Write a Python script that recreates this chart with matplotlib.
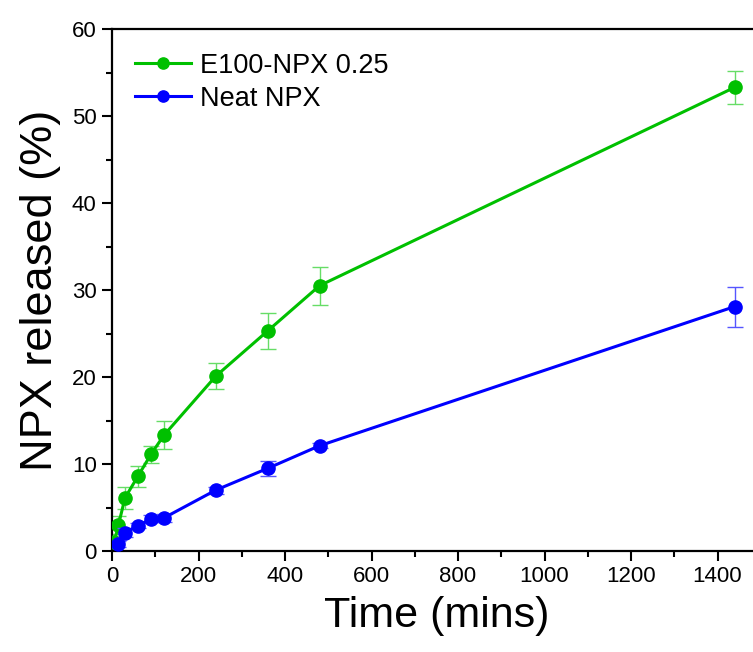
import matplotlib
matplotlib.use("Agg")
import matplotlib.pyplot as plt
from matplotlib.ticker import MultipleLocator

plt.rcParams['font.family'] = ['Liberation Sans', 'DejaVu Sans']

time_green = [5, 15, 30, 60, 90, 120, 240, 360, 480, 1440]
e100_vals = [1.0, 3.0, 6.1, 8.6, 11.1, 13.3, 20.1, 25.3, 30.5, 53.3]
e100_err = [0.3, 1.0, 1.3, 1.2, 1.0, 1.6, 1.5, 2.1, 2.2, 1.9]

time_blue = [15, 30, 60, 90, 120, 240, 360, 480, 1440]
neat_vals = [0.8, 2.1, 2.9, 3.7, 3.8, 7.0, 9.5, 12.1, 28.1]
neat_err = [0.3, 0.5, 0.3, 0.4, 0.5, 0.4, 0.9, 0.3, 2.3]

green = '#00C000'
blue = '#0000FF'

fig = plt.figure(figsize=(7.53, 6.52), dpi=100)
ax = fig.add_axes([112/753, 1-551/652, (760.75-112)/753, (551-29)/652])

ax.errorbar(time_green, e100_vals, yerr=e100_err, fmt='none', ecolor='#66DD66',
            elinewidth=1.0, capsize=5.5, capthick=1.0, zorder=2)
ax.plot(time_green, e100_vals, '-o', color=green, lw=2.2, ms=9.5, label='E100-NPX 0.25', zorder=3)
ax.errorbar(time_blue, neat_vals, yerr=neat_err, fmt='none', ecolor='#5555FF',
            elinewidth=1.0, capsize=5.5, capthick=1.0, zorder=4)
ax.plot(time_blue, neat_vals, '-o', color=blue, lw=2.2, ms=9.5, label='Neat NPX', zorder=5)

ax.set_xlim(0, 1500)
ax.set_ylim(0, 60)
ax.xaxis.set_major_locator(MultipleLocator(200))
ax.xaxis.set_minor_locator(MultipleLocator(100))
ax.yaxis.set_major_locator(MultipleLocator(10))
ax.yaxis.set_minor_locator(MultipleLocator(5))
ax.tick_params(which='major', direction='out', length=7, width=1.5, labelsize=16, pad=4)
ax.tick_params(which='minor', direction='out', length=4, width=1.5)
for s in ax.spines.values():
    s.set_linewidth(1.6)

ax.set_xlabel('Time (mins)', fontsize=31, labelpad=6)
ax.set_ylabel('NPX released (%)', fontsize=32.5, labelpad=8)

leg = ax.legend(loc='upper left', frameon=False, fontsize=19.5, handlelength=2.1,
                borderaxespad=0.0, labelspacing=0.25, handletextpad=0.3,
                bbox_to_anchor=(0.018, 0.975), markerscale=0.85)

fig.savefig('out.png', dpi=100)
